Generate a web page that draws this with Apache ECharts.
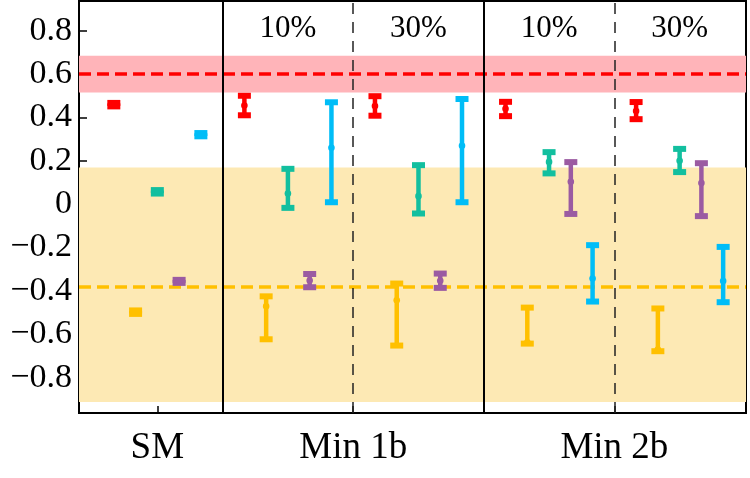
<!DOCTYPE html>
<html>
<head>
<meta charset="utf-8">
<script src="https://cdn.jsdelivr.net/npm/echarts@6/dist/echarts.min.js"></script>
<style>html,body{margin:0;padding:0;background:#fff}#c{width:750px;height:478px}</style>
</head>
<body>
<div id="c"></div>
<script>
// ---- data ----
const groupCenters = [0, 6, 12, 18, 24];           // SM, Min1b-10%, Min1b-30%, Min2b-10%, Min2b-30%
const seriesNames = ['red', 'yellow', 'teal', 'purple', 'blue'];
const seriesOffsets = [-2, -1, 0, 1, 2];
const seriesColors = ['#ff0000', '#ffc000', '#12bf9f', '#9b5ba2', '#00bdf7'];
// each entry: [center, low, high]
const redVals    = [[0.459, 0.451, 0.467], [0.455, 0.410, 0.500], [0.453, 0.408, 0.498], [0.440, 0.406, 0.472], [0.430, 0.392, 0.471]];
const yellowVals = [[-0.498, -0.506, -0.490], [-0.471, -0.623, -0.425], [-0.443, -0.652, -0.366], [-0.637, -0.643, -0.477], [-0.670, -0.678, -0.481]];
const tealVals   = [[0.057, 0.049, 0.065], [0.049, -0.017, 0.163], [0.037, -0.043, 0.180], [0.195, 0.142, 0.240], [0.200, 0.148, 0.255]];
const purpleVals = [[-0.355, -0.363, -0.349], [-0.352, -0.383, -0.322], [-0.353, -0.386, -0.320], [0.103, -0.045, 0.194], [0.098, -0.055, 0.189]];
const blueVals   = [[0.320, 0.313, 0.328], [0.260, 0.009, 0.470], [0.269, 0.009, 0.485], [-0.343, -0.449, -0.189], [-0.354, -0.452, -0.197]];
const allVals = [redVals, yellowVals, tealVals, purpleVals, blueVals];

const redBand = [0.515, 0.685], redLine = 0.6;
const yellowBand = [-0.912, 0.169], yellowLine = -0.375;
const solidSeparators = [3, 15];
const dashedSeparators = [9, 21];
const xTickValues = [0, 9, 21];
const xTickLabels = ['SM', 'Min 1b', 'Min 2b'];
const yTickValues = [-0.8, -0.6, -0.4, -0.2, 0, 0.2, 0.4, 0.6, 0.8];
const pctX = [6, 12, 18, 24];
const pctLabels = ['10%', '30%', '10%', '30%'];
const pctY = 0.81;
const xRange = [-3.6, 27.05];
const yRange = [-0.963, 0.937];

const FONT = '"Liberation Serif", "DejaVu Serif", serif';

function renderItem(params, api) {
  const x = api.value(0), c = api.value(1), lo = api.value(2), hi = api.value(3);
  const pLo = api.coord([x, lo]), pHi = api.coord([x, hi]), pC = api.coord([x, c]);
  const color = api.visual('color');
  return {
    type: 'group',
    children: [
      {type: 'line', shape: {x1: pLo[0], y1: pLo[1], x2: pHi[0], y2: pHi[1]}, style: {stroke: color, lineWidth: 4.5}},
      {type: 'rect', shape: {x: pLo[0] - 6.5, y: pLo[1] - 3, width: 13, height: 6}, style: {fill: color}},
      {type: 'rect', shape: {x: pHi[0] - 6.5, y: pHi[1] - 3, width: 13, height: 6}, style: {fill: color}},
      {type: 'circle', shape: {cx: pC[0], cy: pC[1], r: 3.3}, style: {fill: color}}
    ]
  };
}

const errSeries = allVals.map((vals, si) => ({
  name: seriesNames[si],
  type: 'custom',
  z: 5,
  renderItem: renderItem,
  itemStyle: {color: seriesColors[si]},
  encode: {x: 0, y: [1, 2, 3]},
  data: vals.map((v, gi) => [groupCenters[gi] + seriesOffsets[si], v[0], v[1], v[2]])
}));

const helper = {
  type: 'line',
  data: [],
  z: 1,
  markArea: {
    silent: true,
    data: [
      [{yAxis: redBand[0], itemStyle: {color: '#ffb4b9'}}, {yAxis: redBand[1]}],
      [{yAxis: yellowBand[0], itemStyle: {color: '#fde9b4'}}, {yAxis: yellowBand[1]}]
    ]
  },
  markLine: {
    silent: true,
    symbol: 'none',
    label: {show: false},
    data: [
      {yAxis: redLine, lineStyle: {color: '#ff0000', width: 3.5, type: [12, 6]}},
      {yAxis: yellowLine, lineStyle: {color: '#ffc000', width: 3.5, type: [12, 6]}},
      ...solidSeparators.map(v => ({xAxis: v, lineStyle: {color: '#000', width: 2, type: 'solid'}})),
      ...dashedSeparators.map(v => ({xAxis: v, lineStyle: {color: '#222', width: 1.5, type: [11, 8]}}))
    ]
  }
};

const pctSeries = {
  type: 'custom',
  z: 6,
  silent: true,
  encode: {x: 0, y: 1},
  renderItem: function (params, api) {
    const p = api.coord([api.value(0), api.value(1)]);
    return {
      type: 'text',
      x: p[0], y: p[1],
      style: {text: pctLabels[params.dataIndex], fill: '#000', font: '31px ' + FONT, align: 'center', verticalAlign: 'middle'}
    };
  },
  data: pctX.map(x => [x, pctY])
};

const chart = echarts.init(document.getElementById('c'), null, {renderer: 'canvas'});
chart.setOption({
  animation: false,
  backgroundColor: '#fff',
  grid: {left: 79, right: 4, top: 1, bottom: 65, show: true, borderColor: '#000', borderWidth: 2, backgroundColor: 'transparent', containLabel: false},
  xAxis: {
    type: 'value',
    min: xRange[0], max: xRange[1],
    axisLine: {show: true, onZero: false, lineStyle: {color: '#000', width: 2}},
    splitLine: {show: false},
    axisTick: {show: true, inside: true, length: 7, lineStyle: {color: '#000', width: 1.5}, customValues: xTickValues},
    axisLabel: {
      show: true, margin: 17, color: '#000', fontFamily: FONT, fontSize: 37,
      customValues: xTickValues,
      formatter: v => { const i = xTickValues.indexOf(v); return i >= 0 ? xTickLabels[i] : ''; }
    }
  },
  yAxis: {
    type: 'value',
    min: yRange[0], max: yRange[1],
    axisLine: {show: true, onZero: false, lineStyle: {color: '#000', width: 2}},
    splitLine: {show: false},
    axisTick: {show: true, inside: true, length: 8, lineStyle: {color: '#000', width: 1.5}, customValues: yTickValues},
    axisLabel: {
      show: true, margin: 7, color: '#000', fontFamily: FONT, fontSize: 34,
      customValues: yTickValues,
      formatter: v => Math.abs(v) < 1e-9 ? '0' : Number(v).toFixed(1).replace('-', '\u2212')
    }
  },
  series: [helper, ...errSeries, pctSeries]
});
</script>
</body>
</html>
